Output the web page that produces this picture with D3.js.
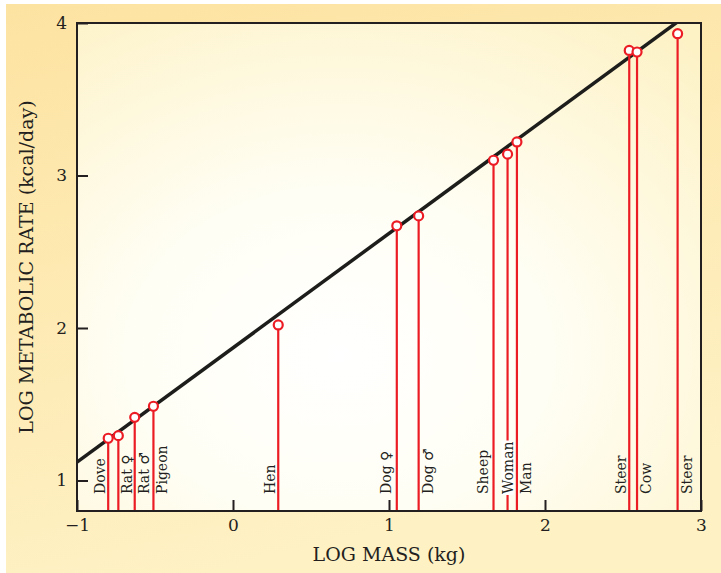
<!DOCTYPE html>
<html>
<head>
<meta charset="utf-8">
<script src="https://cdn.jsdelivr.net/npm/d3@7"></script>
<style>
  body { margin: 0; background: #fff; }
  svg { display: block; font-family: "DejaVu Serif", serif; }
</style>
</head>
<body>
<svg id="drawing_region"></svg>
<script>
// animals, log10 of body mass (kg) and log10 of metabolic rate (kcal/day)
const animals = ["Dove", "Rat \u2640", "Rat \u2642", "Pigeon", "Hen", "Dog \u2640", "Dog \u2642",
                 "Sheep", "Woman", "Man", "Steer", "Cow", "Steer"];
const logMass = [-0.80, -0.735, -0.63, -0.51, 0.29, 1.05, 1.19, 1.67, 1.76, 1.82, 2.54, 2.59, 2.85];
const logRate = [1.277, 1.294, 1.414, 1.487, 2.02, 2.67, 2.735, 3.10, 3.14, 3.22, 3.82, 3.81, 3.93];

// fitted line  log P = slope * log M + intercept
const fitSlope = 0.75;
const fitIntercept = 1.87;

const xTicks = [-1, 0, 1, 2, 3];
const yTicks = [1, 2, 3, 4];

const config = {
    parent: '#drawing_region',
    width: 721,
    height: 573,
    margin: {top: 23, right: 20, bottom: 62, left: 77},
    xdomain: [-1, 3],
    ydomain: [0.8, 4],
    // which side of its stem each label sits on
    labelSide: ["L", "R", "R", "R", "L", "L", "R", "L", "C", "R", "L", "R", "R"],
};

class KleiberChart {
    constructor(config) {
        this.config = config;
        this.data = animals.map((name, i) => ({name: name, mass: logMass[i], rate: logRate[i], side: config.labelSide[i]}));
        this.init();
        this.render();
    }

    init() {
        let self = this;
        const m = self.config.margin;
        self.inner_width = self.config.width - m.left - m.right;
        self.inner_height = self.config.height - m.top - m.bottom;

        self.svg = d3.select(self.config.parent)
            .attr('width', self.config.width)
            .attr('height', self.config.height);

        const defs = self.svg.append('defs');
        const outer = defs.append('linearGradient').attr('id', 'outerGrad')
            .attr('x1', 0).attr('y1', 0).attr('x2', 0.3).attr('y2', 1);
        outer.append('stop').attr('offset', 0).attr('stop-color', '#fde3a2');
        outer.append('stop').attr('offset', 1).attr('stop-color', '#fef1c4');

        const inner = defs.append('radialGradient').attr('id', 'innerGrad')
            .attr('cx', 0.42).attr('cy', 0.68).attr('r', 0.85);
        inner.append('stop').attr('offset', 0).attr('stop-color', '#ffffff');
        inner.append('stop').attr('offset', 0.4).attr('stop-color', '#fffef4');
        inner.append('stop').attr('offset', 1).attr('stop-color', '#fdf2c6');

        defs.append('clipPath').attr('id', 'plotClip')
            .append('rect').attr('width', self.inner_width).attr('height', self.inner_height);

        // page background
        self.svg.append('rect')
            .attr('x', 6).attr('y', 4)
            .attr('width', self.config.width - 6).attr('height', self.config.height - 4)
            .attr('fill', 'url(#outerGrad)');

        self.chart = self.svg.append('g')
            .attr('transform', `translate(${m.left}, ${m.top})`);

        self.chart.append('rect')
            .attr('width', self.inner_width).attr('height', self.inner_height)
            .attr('fill', 'url(#innerGrad)');

        self.xscale = d3.scaleLinear().domain(self.config.xdomain).range([0, self.inner_width]);
        self.yscale = d3.scaleLinear().domain(self.config.ydomain).range([self.inner_height, 0]);

        self.xaxis = d3.axisBottom(self.xscale).tickValues(xTicks).tickFormat(d3.format('d'))
            .tickSizeInner(-11).tickSizeOuter(0).tickPadding(8);
        self.yaxis = d3.axisLeft(self.yscale).tickValues(yTicks).tickFormat(d3.format('d'))
            .tickSizeInner(-11).tickSizeOuter(0).tickPadding(10);
    }

    render() {
        let self = this;
        const red = '#ec1c24';

        const xg = self.chart.append('g')
            .attr('transform', `translate(0, ${self.inner_height})`)
            .call(self.xaxis);
        const yg = self.chart.append('g').call(self.yaxis);
        [xg, yg].forEach(g => {
            g.select('.domain').remove();
            g.selectAll('.tick line').attr('stroke', '#231f20').attr('stroke-width', 2);
            g.selectAll('.tick text').attr('fill', '#231f20')
                .style('font-family', '"DejaVu Serif", serif').style('font-size', '17px');
        });

        const plot = self.chart.append('g').attr('clip-path', 'url(#plotClip)');

        // fitted line
        const x0 = self.config.xdomain[0], x1 = self.config.xdomain[1];
        plot.append('line')
            .attr('x1', self.xscale(x0)).attr('y1', self.yscale(fitSlope * x0 + fitIntercept))
            .attr('x2', self.xscale(x1)).attr('y2', self.yscale(fitSlope * x1 + fitIntercept))
            .attr('stroke', '#1d1d1b').attr('stroke-width', 3.5);

        // stems
        plot.selectAll('.stem').data(self.data).enter()
            .append('line').attr('class', 'stem')
            .attr('x1', d => self.xscale(d.mass)).attr('x2', d => self.xscale(d.mass))
            .attr('y1', d => self.yscale(d.rate)).attr('y2', self.inner_height)
            .attr('stroke', red).attr('stroke-width', 2.2);

        // labels
        const labels = plot.selectAll('.label').data(self.data).enter()
            .append('g').attr('class', 'label')
            .attr('transform', d => {
                let dx = 14;
                if (d.side === 'L') dx = /[gpqy]/.test(d.name) ? -6 : -3;
                if (d.side === 'C') dx = 5;
                return `translate(${self.xscale(d.mass) + dx}, ${self.inner_height - 17}) rotate(-90)`;
            });
        labels.append('text')
            .attr('text-anchor', 'start')
            .attr('fill', '#231f20')
            .style('font-size', '14px')
            .text(d => d.name);
        labels.filter(d => d.side === 'C').each(function() {
            const g = d3.select(this);
            const b = g.select('text').node().getBBox();
            g.insert('rect', 'text')
                .attr('x', b.x - 1).attr('y', b.y + 2)
                .attr('width', b.width + 2).attr('height', b.height - 4)
                .attr('fill', '#fff');
        });

        // points
        plot.selectAll('.dot').data(self.data).enter()
            .append('circle').attr('class', 'dot')
            .attr('cx', d => self.xscale(d.mass)).attr('cy', d => self.yscale(d.rate))
            .attr('r', 4.5)
            .attr('fill', '#fff').attr('stroke', red).attr('stroke-width', 2.2);

        // frame
        self.chart.append('rect')
            .attr('width', self.inner_width).attr('height', self.inner_height)
            .attr('fill', 'none').attr('stroke', '#231f20').attr('stroke-width', 2);

        // axis titles
        self.svg.append('text')
            .attr('x', self.config.margin.left + self.xscale(1))
            .attr('y', 561)
            .attr('text-anchor', 'middle')
            .attr('fill', '#231f20')
            .style('font-size', '19px')
            .text('LOG MASS (kg)');
        self.svg.append('text')
            .attr('transform', `translate(33, ${self.config.margin.top + self.inner_height / 2}) rotate(-90)`)
            .attr('text-anchor', 'middle')
            .attr('fill', '#231f20')
            .style('font-size', '19px')
            .text('LOG METABOLIC RATE (kcal/day)');
    }
}

new KleiberChart(config);
</script>
</body>
</html>
